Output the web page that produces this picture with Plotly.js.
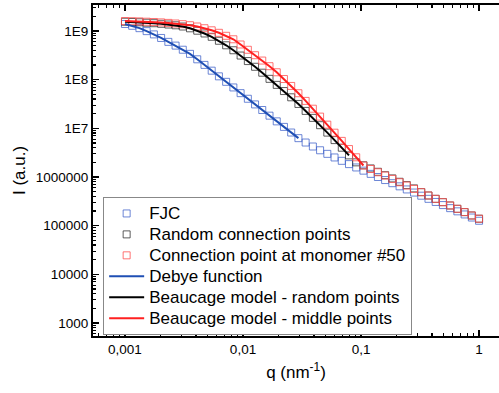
<!DOCTYPE html>
<html>
<head>
<meta charset="utf-8">
<script src="https://cdn.plot.ly/plotly-3.0.1.min.js"></script>
<style>html,body{margin:0;padding:0;background:#fff;}#chart{width:499px;height:393px;}</style>
</head>
<body>
<div id="chart"></div>
<script>
// scattering vector q (nm^-1)
var q = [0.001,0.001151,0.001326,0.001526,0.001758,0.002024,0.00233,0.002683,0.003089,0.003556,
0.004095,0.004715,0.005429,0.006251,0.007197,0.008286,0.009541,0.01099,0.01265,0.01456,
0.01677,0.01931,0.02223,0.0256,0.02947,0.03393,0.03907,0.04498,0.0518,0.05964,
0.06867,0.07906,0.09103,0.1048,0.1207,0.139,0.16,0.1842,0.2121,0.2442,
0.2812,0.3237,0.3728,0.4292,0.4942,0.569,0.6551,0.7543,0.8685,1.0];

// FJC (blue squares)
var fjc = [1.393e9,1.279e9,1.143e9,9.93e8,8.51e8,7.19e8,5.98e8,5.01e8,4.12e8,3.39e8,
2.62e8,2.01e8,1.53e8,1.17e8,9.02e7,6.92e7,5.28e7,4.05e7,3.10e7,2.38e7,
1.82e7,1.39e7,1.07e7,8.20e6,6.28e6,5.11e6,4.23e6,3.54e6,2.99e6,2.52e6,
2.15e6,1.84e6,1.57e6,1.35e6,1.16e6,1.00e6,8.65e5,7.46e5,6.43e5,5.55e5,
4.79e5,4.13e5,3.56e5,3.07e5,2.65e5,2.29e5,1.97e5,1.70e5,1.47e5,1.26e5];

// Random connection points (black squares)
var randomPts = [1.55e9,1.531e9,1.51e9,1.479e9,1.445e9,1.406e9,1.358e9,1.309e9,1.236e9,1.135e9,
1.014e9,8.89e8,7.60e8,6.30e8,5.08e8,4.02e8,3.13e8,2.41e8,1.84e8,1.39e8,
1.04e8,7.82e7,5.83e7,4.34e7,3.17e7,2.28e7,1.64e7,1.16e7,8.17e6,5.73e6,
4.00e6,2.78e6,2.00e6,1.74e6,1.50e6,1.28e6,1.09e6,9.35e5,7.98e5,6.82e5,
5.83e5,4.88e5,4.17e5,3.56e5,3.04e5,2.60e5,2.22e5,1.90e5,1.62e5,1.39e5];

// Connection point at monomer #50 (red squares)
var middlePts = [1.60e9,1.589e9,1.574e9,1.552e9,1.531e9,1.503e9,1.466e9,1.426e9,1.38e9,1.315e9,
1.236e9,1.14e9,1.033e9,9.18e8,7.96e8,6.76e8,5.28e8,4.11e8,3.18e8,2.47e8,
1.89e8,1.42e8,1.03e8,7.43e7,5.26e7,3.66e7,2.53e7,1.74e7,1.19e7,8.13e6,
5.52e6,3.75e6,2.54e6,1.72e6,1.46e6,1.25e6,1.07e6,9.14e5,7.80e5,6.67e5,
5.70e5,4.88e5,4.17e5,3.56e5,3.04e5,2.60e5,2.22e5,1.90e5,1.62e5,1.39e5];

// model curves (fit ranges)
var debyeQ = q.slice(0,25), debyeI = fjc.slice(0,25);
var beauRandQ = q.slice(0,32), beauRandI = randomPts.slice(0,32);
var beauMidQ = q.slice(0,34), beauMidI = middlePts.slice(0,34);

var seriesNames = ['FJC','Random connection points','Connection point at monomer #50',
  'Debye function','Beaucage model - random points','Beaucage model - middle points'];
var yTickVals = [1e3,1e4,1e5,1e6,1e7,1e8,1e9];
var yTickText = ['1000','10000','100000','1000000','1E7','1E8','1E9'];
var xTickVals = [0.001,0.01,0.1,1];
var xTickText = ['0,001','0,01','0,1','1'];

var FONT = 'Liberation Sans, Arial, Helvetica, sans-serif';
function big(s){ return '<span style="font-size:17px">'+s+'</span>'; }
function pts(x,y,name,col){
  return {x:x,y:y,name:big(name),type:'scatter',mode:'markers',
    marker:{symbol:'square-open',size:7,color:col,line:{width:1,color:col}}};
}
function ln(x,y,name,col){
  return {x:x,y:y,name:big(name),type:'scatter',mode:'lines',line:{color:col,width:2}};
}
var data = [
  pts(q,fjc,seriesNames[0],'rgba(60,95,200,0.75)'),
  pts(q,randomPts,seriesNames[1],'rgba(40,40,40,0.75)'),
  pts(q,middlePts,seriesNames[2],'rgba(255,80,80,0.8)'),
  ln(debyeQ,debyeI,seriesNames[3],'#1f4fb4'),
  ln(beauRandQ,beauRandI,seriesNames[4],'#000000'),
  ln(beauMidQ,beauMidI,seriesNames[5],'#ff2020')
];
var layout = {
  width:499,height:393,
  margin:{l:93,r:0,t:5,b:57},
  paper_bgcolor:'#fff',plot_bgcolor:'#fff',
  font:{family:FONT,color:'#000'},
  showlegend:true,
  legend:{x:0.025,y:0.42,xanchor:'left',yanchor:'top',bgcolor:'#fff',
    bordercolor:'#888',borderwidth:1,font:{size:13.8,family:FONT},
    tracegroupgap:0,itemwidth:35},
  xaxis:{type:'log',range:[-3.271,0.169],tickmode:'array',tickvals:xTickVals,ticktext:xTickText,
    ticks:'inside',ticklen:6,tickwidth:1.5,tickcolor:'#000',
    showline:true,linewidth:2,linecolor:'#000',mirror:'allticks',showgrid:false,zeroline:false,
    minor:{ticks:'inside',ticklen:3,tickwidth:1.2,tickcolor:'#000',dtick:'D1',showgrid:false},
    tickfont:{size:13.5,family:FONT},
    title:{text:'q (nm<sup>-1</sup>)',font:{size:17,family:FONT},standoff:10}},
  yaxis:{type:'log',range:[2.733,9.534],tickmode:'array',tickvals:yTickVals,ticktext:yTickText,
    ticks:'inside',ticklen:6,tickwidth:1.5,tickcolor:'#000',
    showline:true,linewidth:2,linecolor:'#000',mirror:false,showgrid:false,zeroline:false,
    minor:{ticks:'inside',ticklen:3,tickwidth:1.2,tickcolor:'#000',dtick:'D1',showgrid:false},
    tickfont:{size:13.5,family:FONT},
    title:{text:'I (a.u.)',font:{size:17,family:FONT},standoff:6}}
};
Plotly.newPlot('chart',data,layout,{staticPlot:true,displayModeBar:false});
</script>
</body>
</html>
